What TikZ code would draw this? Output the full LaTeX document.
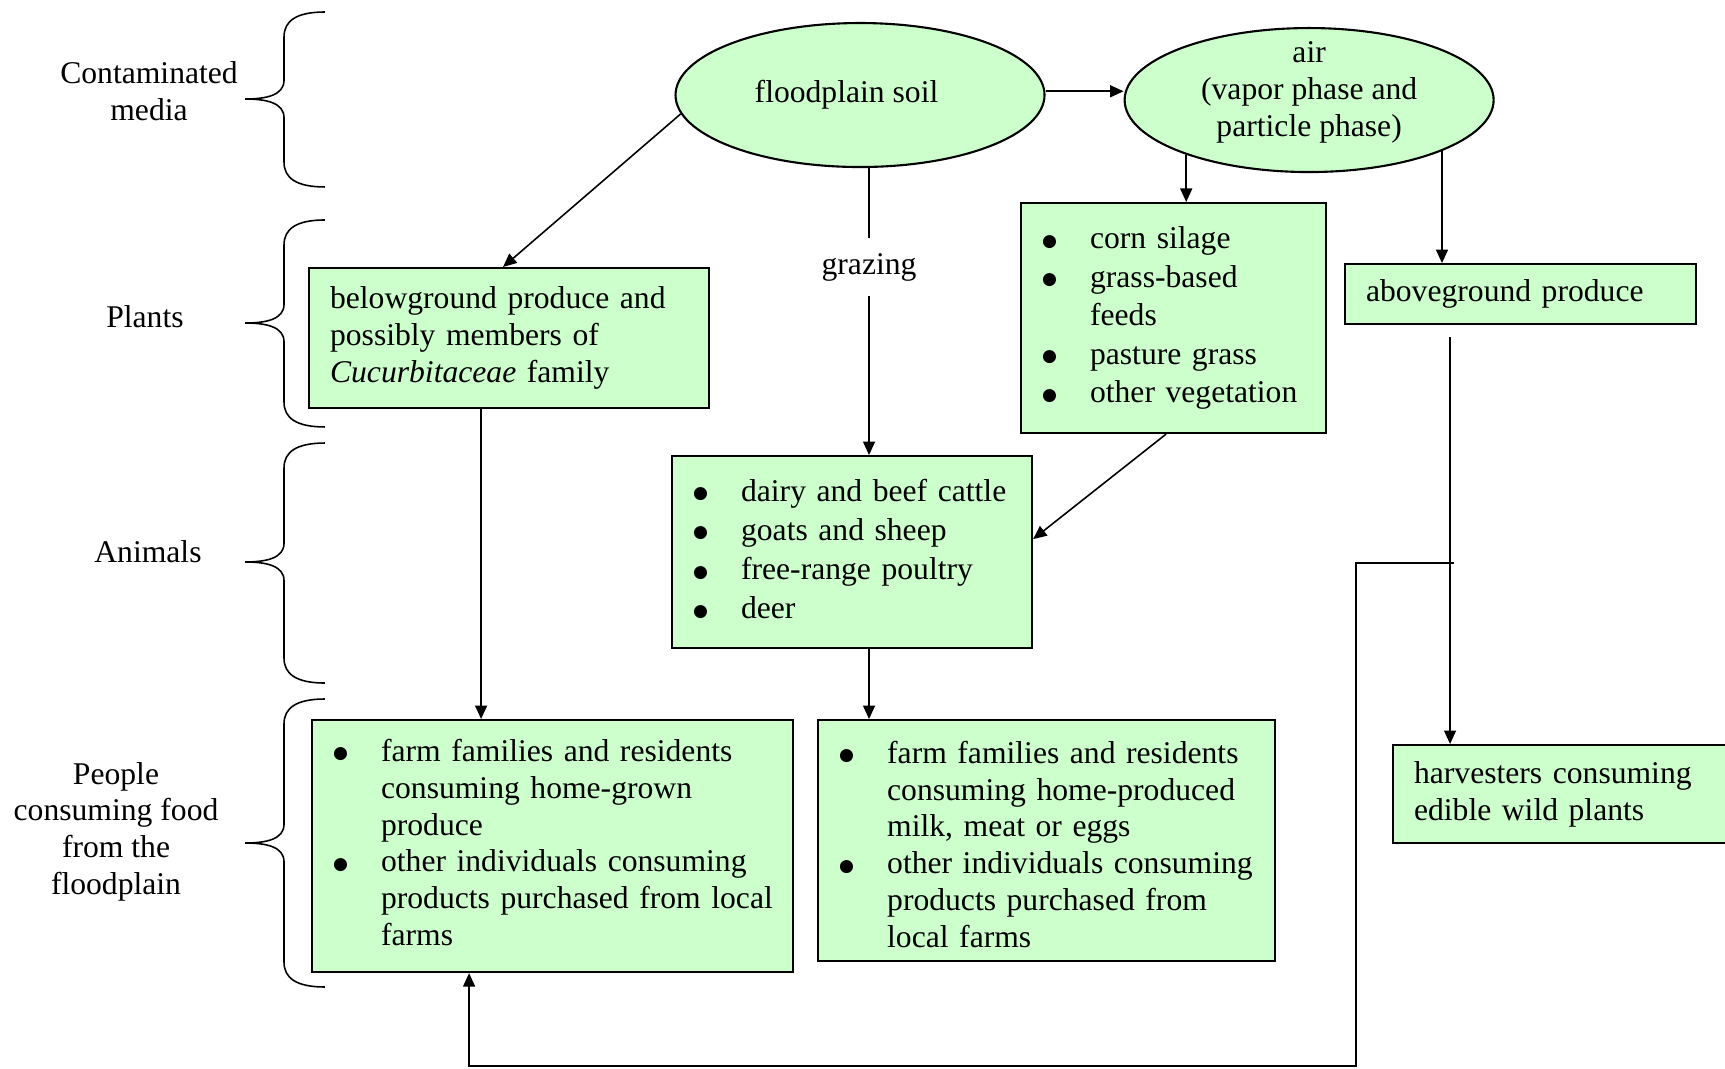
\documentclass[tikz,border=0pt]{standalone}
\usepackage{fontspec}
\setmainfont{Liberation Serif}
\newfontfamily\dotfont{DejaVu Sans}
\usetikzlibrary{arrows.meta,positioning,shapes.geometric}

\definecolor{mint}{HTML}{CCFFCC}

% bullet list used inside the boxes
\newenvironment{blist}[1][1]{\renewcommand{\arraystretch}{#1}\begin{tabular}{@{}p{0.64cm}@{}l@{}}}{\end{tabular}}
\newcommand{\bt}{\raisebox{0.9pt}{\dotfont\fontsize{6.5}{6.5}\selectfont ●}}
% move a text block up or down without changing its size
\newcommand{\lift}[2]{\raisebox{#1}[\height][\depth]{#2}}

% left brace for the row labels: top, tip, bottom
\newcommand{\rowbrace}[3]{%
  \draw[line width=0.6pt] (4.333,#1) .. controls (3.95,#1) and (3.787,#1-0.12) .. (3.787,#1-0.33)
    -- (3.787,#2+0.25) .. controls (3.787,#2+0.05) and (3.55,#2) .. (3.267,#2)
    .. controls (3.55,#2) and (3.787,#2-0.05) .. (3.787,#2-0.25)
    -- (3.787,#3+0.33) .. controls (3.787,#3+0.12) and (3.95,#3) .. (4.333,#3);}

\begin{document}
\begin{tikzpicture}[
  base/.style={font=\fontsize{12}{14}\selectfont},
  media/.style={base, ellipse, draw, line width=0.8pt, fill=mint, minimum width=4.92cm, minimum height=1.92cm, inner sep=0pt, align=center},
  box/.style={base, draw, line width=0.8pt, fill=mint, anchor=north west, align=left, inner xsep=0.28cm, inner ysep=0pt},
  group/.style={base, align=center},
  arr/.style={-{Triangle[length=0.18cm,width=0.16cm]}, line width=0.6pt},
  link/.style={line width=0.6pt}
]
\useasboundingbox (0,0) rectangle (23,-14.253);

% contaminated media
\node[media] (soil) at (11.467,-1.267) {floodplain soil\hspace*{0.36cm}};
\node[media, right=1.04cm of soil, yshift=-0.067cm] (air) {\raisebox{0pt}[0.64cm][0.64cm]{\begin{tabular}{@{}c@{}}air\\(vapor phase and\\particle phase)\end{tabular}}};

% plants
\node[box, text width=4.773cm, minimum height=1.867cm] (bg) at (4.107,-3.56) {belowground produce and\\possibly members of\\\textit{Cucurbitaceae} family};
\node[box, text width=3.507cm, minimum height=3.067cm] (feeds) at (13.6,-2.693) {\begin{blist}[1.04]
  \bt & corn silage\\
  \bt & grass-based\\
      & feeds\\
  \bt & pasture grass\\
  \bt & other vegetation
\end{blist}};
\node[box, text width=4.12cm, minimum height=0.8cm] (above) at (17.92,-3.507) {aboveground produce};
\node[base, inner xsep=0pt, inner ysep=0.2cm] (graze) at (11.587,-3.56) {grazing};

% animals
\node[box, text width=4.24cm, minimum height=2.56cm] (animals) at (8.947,-6.067) {\begin{blist}[1.06]
  \bt & dairy and beef cattle\\
  \bt & goats and sheep\\
  \bt & free-range poultry\\
  \bt & deer
\end{blist}};

% people
\node[box, text width=5.853cm, minimum height=3.36cm] (people1) at (4.147,-9.587) {\begin{blist}
  \bt & farm families and residents\\
      & consuming home-grown\\
      & produce\\
  \bt & other individuals consuming\\
      & products purchased from local\\
      & farms
\end{blist}};
\node[box, text width=5.533cm, minimum height=3.213cm, right=0.307cm of people1.north east, anchor=north west] (people2) {\lift{-0.1cm}{\begin{blist}
  \bt & farm families and residents\\
      & consuming home-produced\\
      & milk, meat or eggs\\
  \bt & other individuals consuming\\
      & products purchased from\\
      & local farms
\end{blist}}};
\node[box, text width=4.08cm, minimum height=1.307cm] (harv) at (18.56,-9.92) {harvesters consuming\\edible wild plants};

% row labels
\node[group] (lmedia) at (1.987,-1.21) {Contaminated\\media};
\node[group] (lplants) at (1.933,-4.227) {Plants};
\node[group] (lanimals) at (1.973,-7.36) {Animals};
\node[group] (lpeople) at (1.547,-11.09) {People\\consuming food\\from the\\floodplain};

\rowbrace{-0.16}{-1.32}{-2.493}
\rowbrace{-2.933}{-4.307}{-5.693}
\rowbrace{-5.907}{-7.493}{-9.107}
\rowbrace{-9.32}{-11.24}{-13.16}

% pathways
\draw[arr] (soil.186) -- ([xshift=-0.08cm]bg.north);
\draw[arr] ([yshift=0.05cm]soil.east) -- ([yshift=0.05cm]soil.east -| air.west);
\draw[link] (graze.north |- soil.south) -- (graze.north);
\draw[arr] (graze.south) -- (graze.south |- animals.north);
\draw[arr] (air.204) -- (air.204 |- feeds.north);
\draw[arr] (air.339) -- (air.339 |- above.north);
\draw[arr] ([xshift=-0.373cm]bg.south) -- ([xshift=-0.373cm]bg.south |- people1.north);
\draw[arr] ([xshift=-0.1cm]feeds.south) -- ([yshift=0.173cm]animals.east);
\draw[arr] (graze.south |- animals.south) -- (graze.south |- people2.north);
\draw[arr] ([xshift=-0.94cm,yshift=-0.16cm]above.south) -- ([xshift=-0.94cm]above.south |- harv.north);
\coordinate (tap) at (19.387,-7.507);
\draw[arr] (tap) -- ++(-1.307,0) -- ++(0,-6.707) -| ([xshift=-1.113cm]people1.south);

\end{tikzpicture}
\end{document}
